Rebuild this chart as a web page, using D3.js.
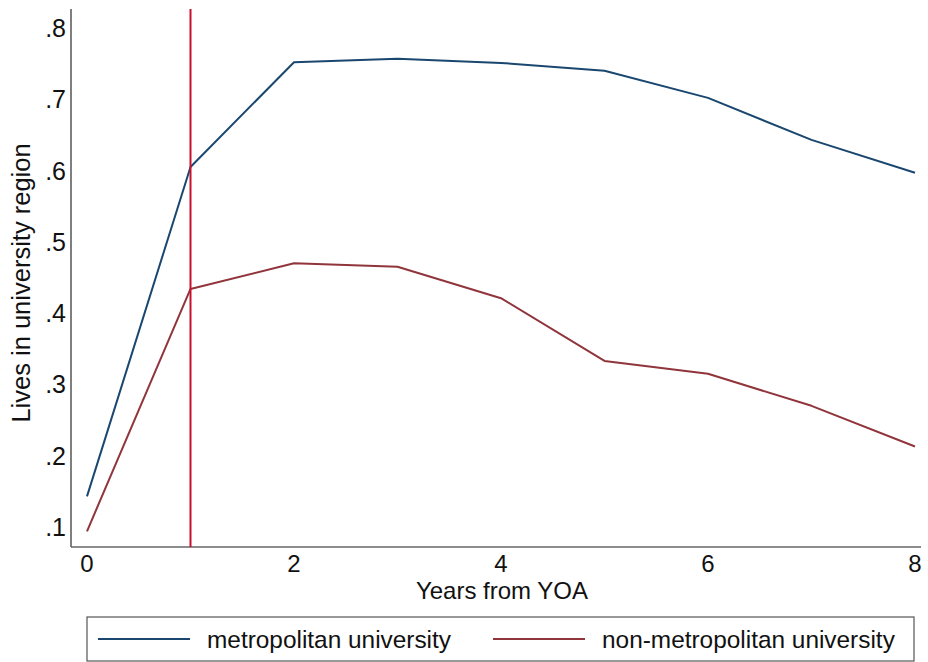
<!DOCTYPE html>
<html><head><meta charset="utf-8">
<script src="https://cdn.jsdelivr.net/npm/d3@7"></script>
<style>body{margin:0;background:#fff}svg{display:block}text{font-family:"Liberation Sans",Arial,sans-serif;fill:#111}</style>
</head><body><svg id="c" width="928" height="662"></svg>
<script>
const years = [0,1,2,3,4,5,6,7,8];
const metro = [0.143,0.605,0.752,0.757,0.751,0.740,0.702,0.643,0.597];
const nonMetro = [0.094,0.434,0.470,0.465,0.421,0.333,0.315,0.270,0.213];
const seriesNames = ["metropolitan university","non-metropolitan university"];
const seriesColors = ["#1a476f","#90353b"];
const xTicks = [0,2,4,6,8];
const yTicks = [0.1,0.2,0.3,0.4,0.5,0.6,0.7,0.8];
const yTickLabels = [".1",".2",".3",".4",".5",".6",".7",".8"];
const refYear = 1;

const svg = d3.select("#c");
const x = d3.scaleLinear().domain([0,8]).range([87,915]);
const y = d3.scaleLinear().domain([0.1,0.8]).range([527,28]);
const plotLeft = 71, plotRight = 921, plotTop = 9, plotBottom = 547;

// axes lines
svg.append("line").attr("x1",plotLeft).attr("x2",plotLeft).attr("y1",plotTop).attr("y2",plotBottom)
  .attr("stroke","#555").attr("stroke-width",1.5);
svg.append("line").attr("x1",plotLeft).attr("x2",plotRight).attr("y1",plotBottom).attr("y2",plotBottom)
  .attr("stroke","#666").attr("stroke-width",1.5);

// y tick labels
svg.append("g").selectAll("text").data(yTicks).join("text")
  .attr("x",plotLeft-5).attr("y",d=>y(d)).attr("dy","0.36em").attr("text-anchor","end")
  .attr("font-size",25).text((d,i)=>yTickLabels[i]);
// x tick labels
svg.append("g").selectAll("text").data(xTicks).join("text")
  .attr("x",d=>x(d)).attr("y",572).attr("text-anchor","middle")
  .attr("font-size",24).text(d=>d);

// titles
svg.append("text").attr("x",502).attr("y",599).attr("text-anchor","middle").attr("font-size",24).text("Years from YOA");
svg.append("text").attr("transform","translate(30,283) rotate(-90)").attr("text-anchor","middle").attr("font-size",25.5).text("Lives in university region");

// series
const line = d3.line().x((d,i)=>x(years[i])).y(d=>y(d));
[metro,nonMetro].forEach((s,k)=>{
  svg.append("path").datum(s).attr("d",line).attr("fill","none")
    .attr("stroke",seriesColors[k]).attr("stroke-width",2).attr("stroke-linejoin","round");
});

// reference line
svg.append("line").attr("x1",x(refYear)).attr("x2",x(refYear)).attr("y1",plotTop).attr("y2",plotBottom)
  .attr("stroke","#c8102e").attr("stroke-width",2);

// legend
svg.append("rect").attr("x",87).attr("y",617).attr("width",827).attr("height",44)
  .attr("fill","#fff").attr("stroke","#555").attr("stroke-width",1.2);
const lg = [{x1:98,x2:190,tx:207},{x1:493,x2:585,tx:602}];
lg.forEach((p,k)=>{
  svg.append("line").attr("x1",p.x1).attr("x2",p.x2).attr("y1",639).attr("y2",639)
    .attr("stroke",seriesColors[k]).attr("stroke-width",2);
  svg.append("text").attr("x",p.tx).attr("y",648).attr("font-size",24.4).text(seriesNames[k]);
});
</script></body></html>
